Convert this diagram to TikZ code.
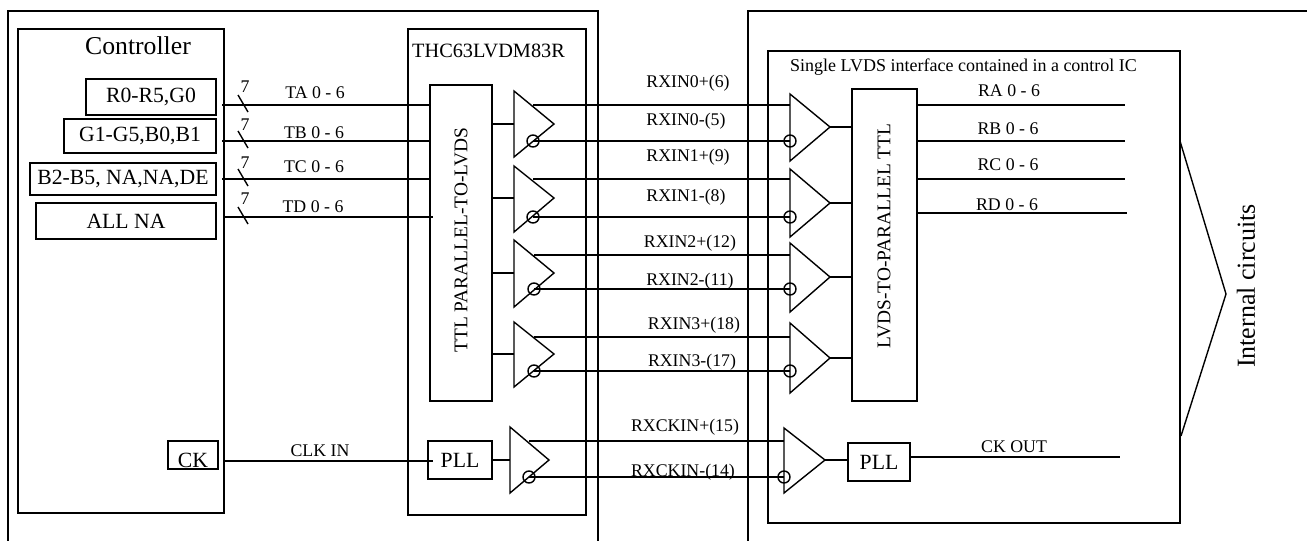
\documentclass[tikz,border=0pt]{standalone}
\usepackage{fontspec}
\setmainfont{Liberation Serif}
\usepackage{tikz}
\usetikzlibrary{calc}
\tikzset{
  wire/.style={line width=1.4pt},
  blockbox/.style={draw,line width=1.4pt,inner sep=0pt},
  siglabel/.style={inner sep=0pt,font=\fontsize{17.8}{20}\selectfont},
  datalabel/.style={inner sep=0pt,font=\fontsize{21.7}{24}\selectfont},
  vertlabel/.style={inner sep=0pt,rotate=90,font=\fontsize{19.4}{22}\selectfont},
  invcircle/.style={draw,circle,line width=1.4pt,minimum size=12pt,inner sep=0pt}
}
\begin{document}
\begin{tikzpicture}[x=1pt,y=-1pt,line join=miter]
\useasboundingbox (0,0) rectangle (1307,541);
% outer frames
\draw[wire] (8,541) -- (8,11) -- (598,11) -- (598,541);
\draw[wire] (748,541) -- (748,11) -- (1307,11);
\node[blockbox,minimum width=206pt,minimum height=484pt] (controller) at (121,271) {};
\node[blockbox,minimum width=178pt,minimum height=486pt] (txchip) at (497,272) {};
\node[blockbox,minimum width=412pt,minimum height=472pt] (rxchip) at (974,287) {};
\node[inner sep=0pt,font=\fontsize{25.7}{28}\selectfont] (ctrltitle) at (138,46) {Controller};
\node[inner sep=0pt,anchor=west,font=\fontsize{20.3}{22}\selectfont] (txtitle) at (412,51) {THC63LVDM83R};
\node[inner sep=0pt,anchor=west,font=\fontsize{18}{20}\selectfont] (rxtitle) at (790,67) {Single LVDS interface contained in a control IC};
% controller outputs
\node[blockbox,datalabel,minimum width=130pt,minimum height=36pt] (rgbA) at (151,97) {R0-R5,G0};
\node[blockbox,datalabel,minimum width=152pt,minimum height=34pt] (rgbB) at (140,136) {G1-G5,B0,B1};
\node[blockbox,datalabel,minimum width=186pt,minimum height=32pt] (rgbC) at (123,179) {B2-B5, NA,NA,DE};
\node[blockbox,datalabel,minimum width=180pt,minimum height=36pt] (rgbD) at (126,221) {ALL NA};
\node[blockbox,datalabel,minimum width=50pt,minimum height=28pt] (ckbox) at (193,455) {};
\node[datalabel] (cktext) at (193,460) {CK};
% conversion blocks
\node[blockbox,minimum width=62pt,minimum height=316pt] (ttlbox) at (461,243) {};
\node[vertlabel] (ttltext) at (461,240) {TTL PARALLEL-TO-LVDS};
\node[blockbox,minimum width=65pt,minimum height=312pt] (lvdsbox) at (884.5,245) {};
\node[vertlabel] (lvdstext) at (884,236) {LVDS-TO-PARALLEL TTL};
\node[blockbox,datalabel,minimum width=64pt,minimum height=38pt] (txpll) at (460,460) {PLL};
\node[blockbox,datalabel,minimum width=62pt,minimum height=38pt] (rxpll) at (879,462) {PLL};
% parallel buses
\foreach \n/\xa/\y/\xb/\ty/\lx/\ly/\txt in {A/222/105/430/87/315/93/TA 0 - 6,B/222/141/430/125/314/133/TB 0 - 6,C/222/179/430/163/314/167/TC 0 - 6,D/224/217/433/199/313/207/TD 0 - 6}{
  \coordinate (bus\n) at (\xa,\y);
  \coordinate (busend\n) at (\xb,\y);
  \draw[wire] (bus\n) -- (busend\n);
  \coordinate (tickA\n) at (238,\y-10);
  \coordinate (tickB\n) at (248,\y+7);
  \draw[wire] (tickA\n) -- (tickB\n);
  \node[siglabel] (seven\n) at (245,\ty) {7};
  \node[siglabel] (buslab\n) at (\lx,\ly) {\txt};
}
\foreach \n/\y/\xb/\lx/\ly/\txt in {A/105/1125/1009/91/RA 0 - 6,B/141/1125/1008/129/RB 0 - 6,C/179/1125/1008/165/RC 0 - 6,D/213/1127/1007/205/RD 0 - 6}{
  \coordinate (out\n) at (\xb,\y);
  \draw[wire] (lvdsbox.east |- out\n) -- (out\n);
  \node[siglabel] (outlab\n) at (\lx,\ly) {\txt};
}
% drivers and receivers
\foreach \n/\tx/\ya/\yb/\ax/\ay in {d0/514/91/157/554/124,d1/514/166/232/554/198,d2/514/240/307/554/273,d3/514/322/387/554/354,dk/510/427/493/549/460,r0/790/94/161/830/127,r1/790/169/237/830/203,r2/790/243/312/830/277,r3/790/323/393/830/358,rk/784/428/493/825/460}{
  \draw[wire] (\tx,\ya) -- (\ax,\ay) -- (\tx,\yb) -- cycle;
  \coordinate (\n-in) at (\tx,\ay);
  \coordinate (\n-out) at (\ax,\ay);
}
\foreach \n in {0,1,2,3}{
  \draw[wire] (ttlbox.east |- d\n-in) -- (d\n-in);
  \draw[wire] (r\n-out) -- (lvdsbox.west |- r\n-out);
}
\draw[wire] (txpll.east) -- (dk-in);
\draw[wire] (rk-out) -- (rxpll.west |- rk-out);
% differential pairs
\foreach \n/\xa/\xb/\yp/\ym in {0/533/790/105/141,1/533/790/179/217,2/534/790/255/289,3/534/790/337/371,k/529/784/441/477}{
  \node[invcircle] (dc\n) at (\xa,\ym) {};
  \node[invcircle] (rc\n) at (\xb,\ym) {};
  \coordinate (dp\n) at (\xa,\yp);
  \coordinate (rp\n) at (\xb,\yp);
  \draw[wire] (dp\n) -- (rp\n);
  \draw[wire] (dc\n.center) -- (rc\n.center);
}
\foreach \n/\x/\y/\txt in {a/688/83/RXIN0+(6),b/686/121/RXIN0-(5),c/688/157/RXIN1+(9),d/686/197/RXIN1-(8),e/690/243/RXIN2+(12),f/690/281/RXIN2-(11),g/694/325/RXIN3+(18),h/692/362/RXIN3-(17),i/685/427/RXCKIN+(15),j/683/472/RXCKIN-(14)}{
  \node[siglabel] (pair\n) at (\x,\y) {\txt};
}
% clock lines
\coordinate (clkstart) at (224,461);
\coordinate (clkend) at (433,461);
\draw[wire] (clkstart) -- (clkend);
\node[siglabel] (clklab) at (320,451) {CLK IN};
\coordinate (ckoutend) at (1120,457);
\draw[wire] (rxpll.east |- ckoutend) -- (ckoutend);
\node[siglabel] (ckoutlab) at (1014,447) {CK OUT};
% internal circuits
\coordinate (brA) at (1180,141);
\coordinate (brB) at (1226,294);
\coordinate (brC) at (1181,436);
\draw[wire] (brA) -- (brB) -- (brC);
\node[inner sep=0pt,rotate=90,font=\fontsize{26}{28}\selectfont] (internal) at (1246,286) {Internal circuits};
\end{tikzpicture}
\end{document}
